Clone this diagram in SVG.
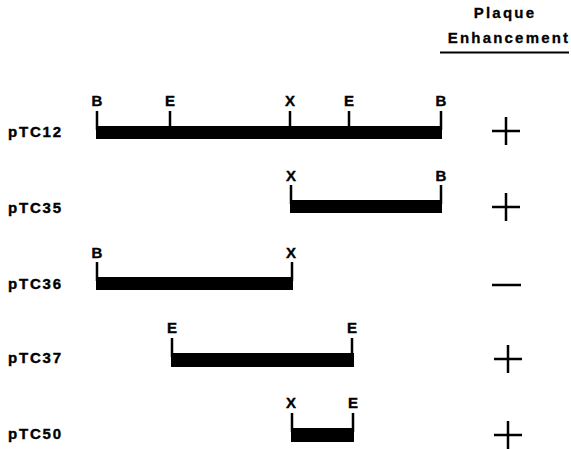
<svg xmlns="http://www.w3.org/2000/svg" width="571" height="449" viewBox="0 0 571 449">
<style>
.lbl{font-family:"Liberation Sans",Arial,sans-serif;font-weight:bold;font-size:15px;letter-spacing:1.8px;fill:#000;stroke:#000;stroke-width:0.4}
.site{font-family:"Liberation Sans",Arial,sans-serif;font-weight:bold;font-size:15px;text-anchor:middle;fill:#000;stroke:#000;stroke-width:0.4}
.hdr{font-family:"Liberation Sans",Arial,sans-serif;font-weight:bold;font-size:15px;letter-spacing:2.2px;text-anchor:middle;fill:#000;stroke:#000;stroke-width:0.3}
.tick{stroke:#000;stroke-width:2.5;fill:none}
.bar{fill:#000}
.sym{stroke:#000;stroke-width:2.5;fill:none}
</style>
<rect width="571" height="449" fill="#fff"/>
<g id="header">
<text class="hdr" x="505" y="18">Plaque</text>
<text class="hdr" x="509" y="43">Enhancement</text>
<line x1="440" y1="52.5" x2="569" y2="52.5" stroke="#000" stroke-width="2"/>
</g>
<g id="pTC12">
<text class="lbl" x="8" y="137">pTC12</text>
<rect class="bar" x="96" y="126" width="346" height="13"/>
<path class="tick" d="M97 111V130M170 111V130M290 111V130M349 111V130M441 111V130"/>
<text class="site" x="97" y="106">B</text>
<text class="site" x="170" y="106">E</text>
<text class="site" x="290" y="106">X</text>
<text class="site" x="349" y="106">E</text>
<text class="site" x="441" y="106">B</text>
<path class="sym" d="M492 131H520M506 117V145"/>
</g>
<g id="pTC35">
<text class="lbl" x="8" y="213">pTC35</text>
<rect class="bar" x="290" y="200" width="152" height="13"/>
<path class="tick" d="M291 185V204M441 185V204"/>
<text class="site" x="291" y="181">X</text>
<text class="site" x="441" y="181">B</text>
<path class="sym" d="M492 207H520M506 193V221"/>
</g>
<g id="pTC36">
<text class="lbl" x="8" y="289">pTC36</text>
<rect class="bar" x="96" y="277" width="197" height="13"/>
<path class="tick" d="M97 262V281M292 262V281"/>
<text class="site" x="97" y="258">B</text>
<text class="site" x="291" y="258">X</text>
<path class="sym" d="M492 285H521"/>
</g>
<g id="pTC37">
<text class="lbl" x="8" y="363">pTC37</text>
<rect class="bar" x="171" y="353" width="183" height="14"/>
<path class="tick" d="M172 338V357M352 338V357"/>
<text class="site" x="172" y="333">E</text>
<text class="site" x="352" y="333">E</text>
<path class="sym" d="M494 359H522M508 345V373"/>
</g>
<g id="pTC50">
<text class="lbl" x="8" y="439">pTC50</text>
<rect class="bar" x="291" y="428" width="63" height="14"/>
<path class="tick" d="M292 413V432M353 413V432"/>
<text class="site" x="291" y="408">X</text>
<text class="site" x="353" y="408">E</text>
<path class="sym" d="M494 435H522M508 421V449"/>
</g>
</svg>
